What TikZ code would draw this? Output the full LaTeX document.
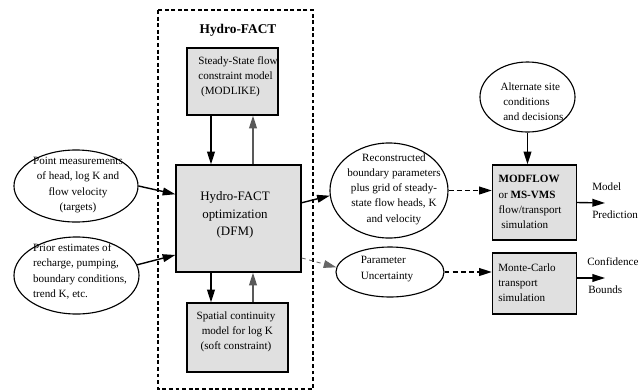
\documentclass[tikz,border=0pt]{standalone}
\usepackage{fontspec}
\setmainfont{Liberation Serif}
\usetikzlibrary{arrows.meta,shapes.geometric}
\definecolor{boxgray}{RGB}{224,224,224}
\begin{document}
\begin{tikzpicture}[x=0.025cm,y=-0.025cm,
	box/.style={draw,line width=0.9pt,fill=boxgray},
	ell/.style={draw,ellipse,line width=0.8pt,inner sep=0pt},
	txt/.style={font=\fontsize{7.9}{10.8}\selectfont,inner sep=0pt},
	arr/.style={line width=1pt,-{Triangle[length=9pt,width=5.5pt]}},
	dasharr/.style={arr,dash pattern=on 3.5pt off 2.3pt}]
	\useasboundingbox (0,0) rectangle (641,391);
	%frame
	\draw[line width=1.3pt,dash pattern=on 2.8pt off 1.9pt] (158,10) rectangle (313,389);
	\node[font=\fontsize{9.5}{12}\selectfont\bfseries] (title) at (238,30) {Hydro-FACT};
	%boxes
	\node[box,minimum width=2.275cm,minimum height=1.675cm] (steady) at (232.5,81.5) {};
	\node[txt,align=left] (steadytxt) at (238,77) {Steady-State flow\\constraint model\\\ (MODLIKE)};
	\node[box,minimum width=3.125cm,minimum height=2.675cm] (main) at (238.5,218.5) {};
	\node[txt,font=\fontsize{9.2}{12.2}\selectfont,align=center] (maintxt) at (235,215) {Hydro-FACT\\optimization\\(DFM)};
	\node[box,minimum width=2.525cm,minimum height=1.725cm] (spatial) at (237.5,337.5) {};
	\node[txt,align=center] (spatialtxt) at (236,332) {Spatial continuity\\\ model for log K\\(soft constraint)};
	\node[box,minimum width=2.1cm,minimum height=1.875cm] (mf) at (534.5,202.5) {};
	\node[txt,align=left] (mftxt) at (530,202) {\textbf{MODFLOW}\\or \textbf{MS-VMS}\\flow/transport\\\ simulation};
	\node[box,minimum width=2.1cm,minimum height=1.525cm] (mc) at (534.5,283.5) {};
	\node[txt,align=left] (mctxt) at (527,283) {Monte-Carlo\\transport\\simulation};
	%ellipses
	\node[ell,minimum width=3.1cm,minimum height=1.8cm] (meas) at (76,186) {};
	\node[txt,align=center] (meastxt) at (78,185) {Point measurements\\of head, log K and\\flow velocity\\(targets)};
	\node[ell,minimum width=3.125cm,minimum height=1.925cm] (prior) at (76.5,275.5) {};
	\node[txt,align=left] (priortxt) at (80,271.5) {Prior estimates of\\recharge, pumping,\\boundary conditions,\\trend K, etc.};
	\node[ell,minimum width=2.95cm,minimum height=2.375cm] (rec) at (389,190.5) {};
	\node[txt,align=center] (rectxt) at (394,189) {Reconstructed\\boundary parameters\\plus grid of steady-\\state flow heads, K\\and velocity};
	\node[ell,minimum width=2.375cm,minimum height=1.75cm] (alt) at (527.5,97) {};
	\node[txt,align=left] (alttxt) at (532,101.5) {Alternate site\\\ conditions\\\ and decisions};
	\node[ell,minimum width=2.7cm,minimum height=1.25cm] (param) at (390,272) {};
	\node[txt,align=left] (paramtxt) at (387,269) {Parameter\\Uncertainty};
	%outputs
	\node[txt,anchor=west] (model) at (592,187) {Model};
	\node[txt,anchor=west] (pred) at (592,215) {Prediction};
	\node[txt,anchor=west] (conf) at (587,262) {Confidence};
	\node[txt,anchor=west] (bounds) at (588,290) {Bounds};
	\coordinate (predtip) at (605,203);
	\coordinate (conftip) at (605,278);
	%arrows
	\draw[arr] (steady.south -| 211,0) -- (main.north -| 211,0);
	\draw[arr,black!65] (main.north -| 253,0) -- (steady.south -| 253,0);
	\draw[arr] (main.south -| 211,0) -- (spatial.north -| 211,0);
	\draw[arr,black!65] (spatial.north -| 253,0) -- (main.south -| 253,0);
	\draw[arr] (meas.east) -- (main.159);
	\draw[arr] (prior.10) -- (main.210);
	\draw[arr] (main.14) -- (rec.185);
	\draw[dasharr] (rec.east) -- (rec.east -| mf.west);
	\draw[arr] (alt.south) -- (alt.south |- mf.north);
	\draw[arr] (mf.east) -- (predtip);
	\draw[arr,line width=0.6pt,black!60,dash pattern=on 3pt off 2.5pt] (main.-32) -- (param.175);
	\draw[dasharr] (param.east) -- (param.east -| mc.west);
	\draw[arr] (mc.east |- conftip) -- (conftip);
\end{tikzpicture}
\end{document}
